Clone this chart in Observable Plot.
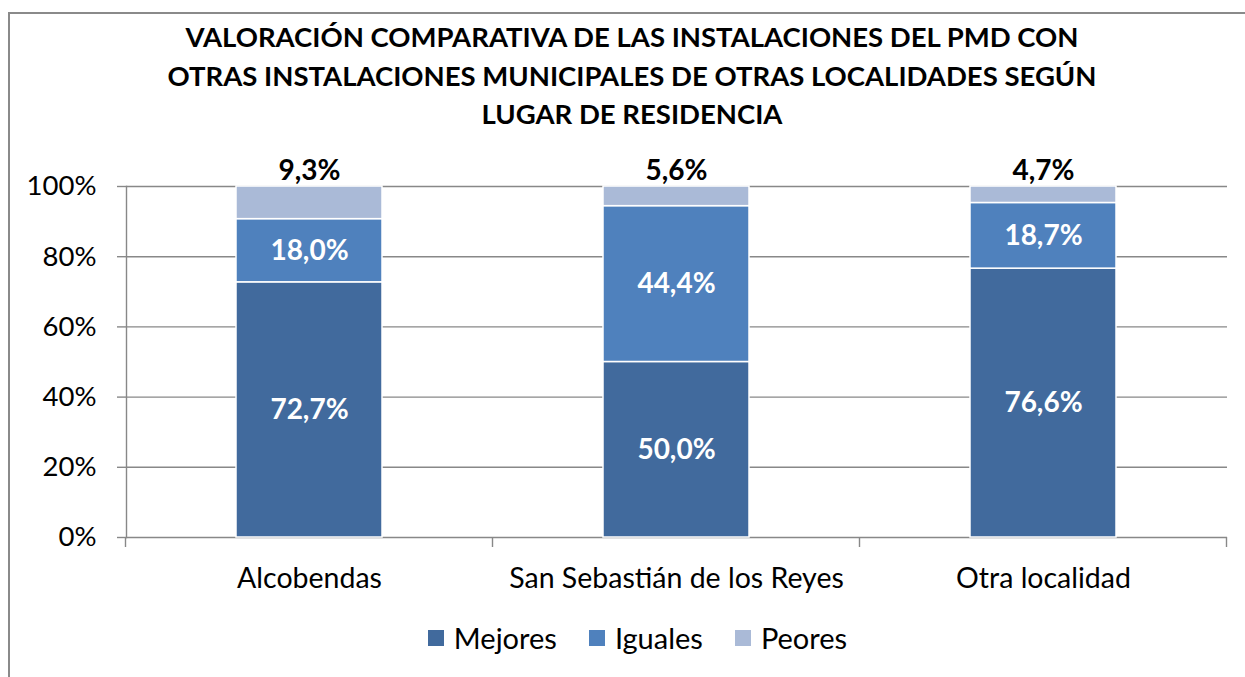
<!DOCTYPE html>
<html>
<head>
<meta charset="utf-8">
<script src="https://cdn.jsdelivr.net/npm/d3@7"></script>
<script src="https://cdn.jsdelivr.net/npm/@observablehq/plot@0.6"></script>
<style>
  html, body { margin: 0; padding: 0; background: #fff; }
  #wrap { position: relative; width: 1245px; height: 677px; overflow: hidden; font-family: Lato, "Open Sans", sans-serif; }
  #frame { position: absolute; left: 8px; top: 12px; width: 1400px; height: 800px; border-left: 2px solid #8a8a8a; border-top: 2px solid #8a8a8a; }
  #title { position: absolute; left: 17px; width: 1230px; top: 18px; text-align: center; font-weight: 700; font-size: 27.5px; line-height: 38.5px; color: #000; z-index: 2; }
  #chart { position: absolute; left: 0; top: 0; z-index: 1; }
  #legend { position: absolute; left: 0; width: 1245px; top: 620px; display: flex; justify-content: center; gap: 32px; font-size: 29px; z-index: 2; padding-left: 30px; box-sizing: border-box; }
  .item { display: flex; align-items: center; gap: 10px; }
  .sw { width: 16px; height: 16px; display: inline-block; }
</style>
</head>
<body>
<div id="wrap">
  <div id="frame"></div>
  <div id="title">VALORACIÓN COMPARATIVA DE LAS INSTALACIONES DEL PMD CON<br>OTRAS INSTALACIONES MUNICIPALES DE OTRAS LOCALIDADES SEGÚN<br>LUGAR DE RESIDENCIA</div>
  <div id="chart"></div>
  <div id="legend"></div>
</div>
<script>
const categories = ["Alcobendas", "San Sebastián de los Reyes", "Otra localidad"];
const series = ["Mejores", "Iguales", "Peores"];
const mejores = [72.7, 50.0, 76.6];
const iguales = [18.0, 44.4, 18.7];
const peores = [9.3, 5.6, 4.7];
const yTicks = [0, 20, 40, 60, 80, 100];
const colors = ["#416A9D", "#4F81BD", "#AABAD7"];

const values = [mejores, iguales, peores];
const table = [];
categories.forEach((c, i) => {
  let acc = 0;
  series.forEach((s, j) => {
    const v = values[j][i];
    table.push({cat: c, serie: s, value: v, y1: acc, y2: acc + v, mid: acc + v / 2});
    acc += v;
  });
});
const fmt = v => v.toFixed(1).replace(".", ",") + "%";

const plot = Plot.plot({
  width: 1245,
  height: 600,
  marginTop: 186,
  marginBottom: 63,
  marginLeft: 126,
  marginRight: 18,
  style: {background: "transparent", fontFamily: "Lato, 'Open Sans', sans-serif", color: "#000"},
  x: {domain: categories, paddingInner: 0.602, paddingOuter: 0.301, label: null},
  y: {domain: [0, 100], label: null},
  color: {domain: series, range: colors},
  marks: [
    Plot.ruleY(yTicks, {y: d => d, stroke: "#888", strokeWidth: 1.4}),
    Plot.frame({anchor: "left", stroke: "#888", strokeWidth: 1.4}),
    Plot.axisY({ticks: yTicks, tickFormat: d => d + "%", tickSize: 9, tickPadding: 21, stroke: "#888", strokeWidth: 1.4, fontSize: 27.5, fill: "#000", label: null}),
    Plot.axisX({tickSize: 0, tickPadding: 30, fontSize: 28.5, fill: "#000", label: null}),
    Plot.rectY(table, {x: "cat", y1: "y1", y2: "y2", fill: "serie", stroke: "white", strokeWidth: 1.5}),
    Plot.text(table.filter(d => d.serie !== "Peores"), {x: "cat", y: "mid", text: d => fmt(d.value), fill: "white", fontWeight: 700, fontSize: 28}),
    Plot.text(table.filter(d => d.serie === "Peores"), {x: "cat", y: "y2", dy: -15, text: d => fmt(d.value), fill: "black", fontWeight: 700, fontSize: 28})
  ]
});
document.getElementById("chart").appendChild(plot);

// category boundary ticks (Excel-style), from the band scale
const xs = plot.scale("x");
const ys = plot.scale("y");
const off = (xs.step - xs.bandwidth) / 2;
const bounds = categories.map(c => xs.apply(c) - off);
bounds.push(xs.apply(categories[categories.length - 1]) + xs.bandwidth + off);
const y0 = ys.apply(0);
d3.select(plot).append("g")
  .selectAll("line").data(bounds).join("line")
  .attr("x1", d => d).attr("x2", d => d)
  .attr("y1", y0).attr("y2", y0 + 10)
  .attr("stroke", "#888").attr("stroke-width", 1.4);

// legend
const leg = d3.select("#legend");
series.forEach((s, i) => {
  const it = leg.append("div").attr("class", "item");
  it.append("span").attr("class", "sw").style("background", colors[i]);
  it.append("span").text(s);
});
</script>
</body>
</html>
